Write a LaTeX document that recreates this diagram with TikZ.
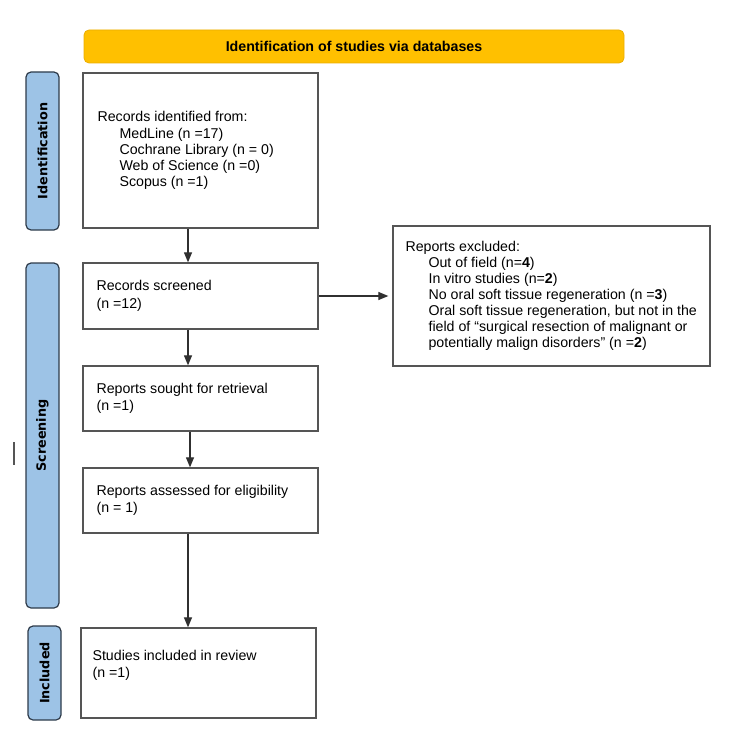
\documentclass[tikz,border=0pt]{standalone}
\usepackage{fontspec}
\setmainfont{Liberation Sans}
\newfontfamily\labelfont{DejaVu Sans}
\usetikzlibrary{arrows.meta}
\definecolor{gold}{HTML}{FFC000}
\definecolor{goldedge}{HTML}{EBAE00}
\definecolor{lblue}{HTML}{9DC3E6}
\definecolor{lborder}{HTML}{2E3B4A}
\definecolor{boxgray}{HTML}{555555}
\definecolor{arrgray}{HTML}{303030}
\begin{document}
\begin{tikzpicture}[x=1pt,y=-1pt,
  box/.style={draw=boxgray, line width=1.3pt, fill=white, inner sep=0pt},
  txt/.style={inner sep=0pt, anchor=west, align=left, font=\fontsize{14.2}{17.5}\selectfont},
  txttight/.style={txt, font=\fontsize{14.2}{16.1}\selectfont},
  side/.style={draw=lborder, fill=lblue, line width=1.2pt, rounded corners=5pt, rotate=90, inner sep=0pt, minimum height=33pt, font=\labelfont\bfseries\fontsize{12.8}{13}\selectfont},
  arr/.style={draw=arrgray, line width=1.2pt, -{Triangle[length=10pt,width=8pt]}}]

\useasboundingbox (0,0) rectangle (750,741);

% banner
\node[draw=goldedge, fill=gold, line width=0.8pt, rounded corners=5pt, minimum width=540pt, minimum height=33pt, inner sep=0pt, font=\bfseries\fontsize{14.2}{15}\selectfont] (banner) at (354,46.5) {Identification of studies via databases};

% side labels
\node[side, minimum width=158pt] (lblident) at (42.5,151) {Identification};
\node[side, minimum width=345pt] (lblscreen) at (42.5,435.5) {Screening};
\node[side, minimum width=94pt] (lblincl) at (44.5,673) {Included};

% boxes
\node[box, minimum width=235pt, minimum height=155pt] (ident) at (200.5,150.5) {};
\node[box, minimum width=235pt, minimum height=66pt] (screened) at (200.5,296) {};
\node[box, minimum width=235pt, minimum height=65pt] (sought) at (200.5,398.5) {};
\node[box, minimum width=235pt, minimum height=65pt] (assessed) at (200.5,500.5) {};
\node[box, minimum width=235pt, minimum height=90pt] (included) at (198.5,673) {};
\node[box, minimum width=317pt, minimum height=140pt] (excluded) at (551.5,296) {};

% texts
\node[txttight] (identtxt) at ([xshift=15pt]ident.west) {Records identified from:\\
\hspace*{22pt}MedLine (n =17)\\
\hspace*{22pt}Cochrane Library (n = 0)\\
\hspace*{22pt}Web of Science (n =0)\\
\hspace*{22pt}Scopus (n =1)};
\node[txt] (screenedtxt) at ([xshift=14pt]screened.west) {Records screened\\(n =12)};
\node[txt] (soughttxt) at ([xshift=14pt]sought.west) {Reports sought for retrieval\\(n =1)};
\node[txt] (assessedtxt) at ([xshift=14pt]assessed.west) {Reports assessed for eligibility\\(n = 1)};
\node[txt] (includedtxt) at ([xshift=12pt,yshift=7.5pt]included.west) {Studies included in review\\(n =1)};
\node[txttight] (excludedtxt) at ([xshift=13pt]excluded.west) {Reports excluded:\\
\hspace*{23pt}Out of field (n=\textbf{4})\\
\hspace*{23pt}In vitro studies (n=\textbf{2})\\
\hspace*{23pt}No oral soft tissue regeneration (n =\textbf{3})\\
\hspace*{23pt}Oral soft tissue regeneration, but not in the\\
\hspace*{23pt}field of “surgical resection of malignant or\\
\hspace*{23pt}potentially malign disorders” (n =\textbf{2})};

% arrows
\draw[arr] ([xshift=-12.5pt]ident.south) -- ([xshift=-12.5pt]screened.north);
\draw[arr] ([xshift=-12.5pt]screened.south) -- ([xshift=-12.5pt]sought.north);
\draw[arr] ([xshift=-10.5pt]sought.south) -- ([xshift=-10.5pt]assessed.north);
\draw[arr] ([xshift=-12.5pt]assessed.south) -- ([xshift=-12.5pt]assessed.south |- included.north);
\draw[arr] (screened.east) -- ([xshift=-4pt]excluded.west);

% stray mark
\draw[boxgray, line width=1.2pt] (14,442) -- (14,465);
\end{tikzpicture}
\end{document}
